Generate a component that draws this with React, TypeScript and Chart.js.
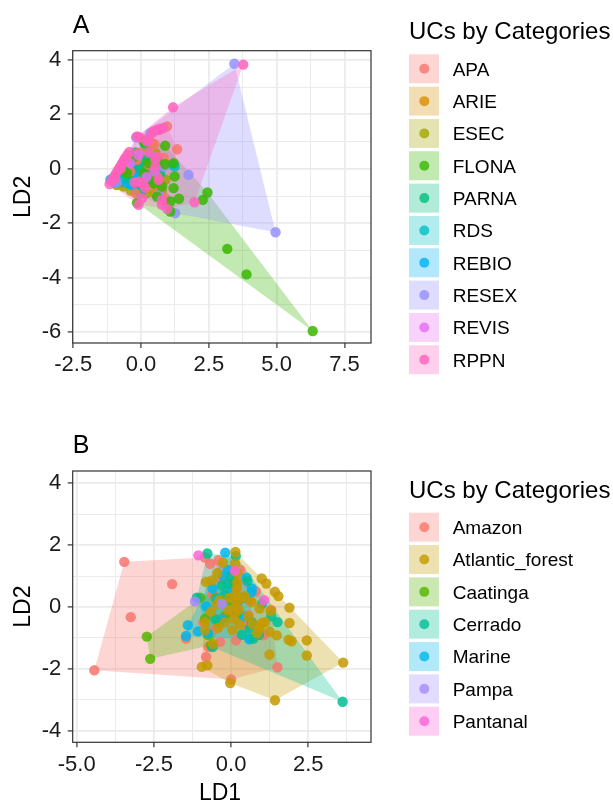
import React, { useEffect, useRef } from "react";
import { Chart, registerables } from "chart.js";
Chart.register(...registerables);

type P = [number, number];
const FONT = "'Liberation Sans', Arial, Helvetica, sans-serif";

// ---------------- Panel A data (LD1, LD2) ----------------
const catsA = ["APA", "ARIE", "ESEC", "FLONA", "PARNA", "RDS", "REBIO", "RESEX", "REVIS", "RPPN"];
const colorsA = ["#F8766D", "#D89000", "#A3A500", "#39B600", "#00BF7D", "#00BFC4", "#00B0F6", "#9590FF", "#E76BF3", "#FF62BC"];

const A_APA: P[] = [[1.33, 0.72], [0.96, 1.56], [-0.09, 0.58], [0.89, -1.08], [-0.15, 0.33], [0.3, 0.1], [0.6, -0.3], [-0.4, -0.1], [0.1, -0.6], [0.5, 0.9], [-0.6, 0.2], [0.2, 1.1], [0.7, -0.8], [-0.2, -0.9], [0.84, 0.4]];
const A_ARIE: P[] = [[0.3, -0.5], [-0.3, -0.2], [0.7, 0.1], [-0.7, -0.55], [0.1, 0.3], [0.5, -0.9]];
const A_ESEC: P[] = [[-0.82, -0.53], [-0.64, -0.65], [0.4, 0.94], [0.53, 0.58], [0.77, -0.83], [-0.21, -0.83], [-0.9, -0.6], [-0.38, -0.8], [0.22, 0.82], [0.59, -0.6], [0.0, -0.3], [-0.5, -0.3], [0.3, -0.1], [0.9, -0.4], [-0.1, 0.2], [0.2, -0.9]];
const A_FLONA: P[] = [[6.33, -5.96], [3.89, -3.88], [3.18, -2.94], [2.45, -0.87], [2.28, -1.14], [1.4, -1.1], [1.2, -0.71], [1.24, -0.28], [1.2, 0.21], [0.89, 0.85], [0.89, 0.17], [1.08, -1.2], [1.08, -1.57], [0.28, 0.21], [0.46, -0.53], [0.77, -0.65], [0.1, -0.16], [-0.52, -0.16], [-0.64, -0.04], [0.59, -1.02], [0.1, 1.0], [-0.15, -1.25], [0.4, -0.2], [0.6, 0.3], [-0.3, 0.4], [0.0, -0.5]];
const A_PARNA: P[] = [[0.22, -0.04], [-0.46, -0.34], [0.1, 0.33], [-0.03, -0.83], [0.13, 0.94], [-0.7, -0.1], [0.5, 0.1], [-0.3, 0.0], [0.3, -0.4], [-0.9, -0.45], [0.7, -0.2], [-0.2, 0.6], [0.0, 0.1]];
const A_RDS: P[] = [[1.24, 0.08], [1.2, 0.15], [0.4, 0.4], [-0.5, -0.2], [0.1, -0.4], [-0.8, -0.3]];
const A_REBIO: P[] = [[-0.27, -0.16], [-0.46, -0.53], [-0.09, -0.75], [-0.21, 0.04], [-1.13, -0.4], [-0.9, -0.26], [-0.66, -0.47], [-0.51, -0.15], [-0.03, -0.89], [-0.21, -0.55], [-1.0, -0.5], [-0.35, -0.6], [-0.6, -0.3], [-0.1, -0.3]];
const A_RESEX: P[] = [[3.44, 3.86], [4.96, -2.33], [1.75, -0.22], [1.26, -1.63], [0.65, -0.96], [0.83, 0.08], [-0.18, 1.15], [0.34, 1.31], [-0.9, -0.5]];
const A_REVIS: P[] = [[0.2, -0.3], [-0.4, 0.2], [0.5, -0.1], [-0.1, 0.5]];
const A_RPPN: P[] = [[-1.16, -0.56], [-1.08, -0.42], [-1.0, -0.3], [-0.93, -0.18], [-0.86, -0.06], [-0.79, 0.05], [-0.72, 0.17], [-0.65, 0.28], [-0.58, 0.4], [-0.5, 0.52], [-0.43, 0.62], [-0.95, -0.35], [-0.75, 0.0], [-0.6, 0.35], [3.77, 3.83], [1.18, 2.26], [1.97, -1.23], [-0.09, -1.32], [0.96, -1.47], [0.77, -1.32], [0.59, 1.44], [0.83, 1.5], [0.46, 1.38], [0.4, 1.31], [0.22, 1.0], [-0.15, 1.19], [-0.09, -0.47], [0.04, -0.53], [0.53, 0.35], [0.59, 0.45], [0.53, 0.08], [0.65, -0.4], [0.04, -1.08], [0.77, -1.14], [0.3, 0.6], [0.7, 1.47], [0.66, 1.42], [0.28, 1.05], [-0.05, 1.15], [-0.25, -0.5], [0.15, -0.7]];
const seriesA: P[][] = [A_APA, A_ARIE, A_ESEC, A_FLONA, A_PARNA, A_RDS, A_REBIO, A_RESEX, A_REVIS, A_RPPN];

const xMajorA = [-2.5, 0, 2.5, 5, 7.5];
const xMinorA = [-1.25, 1.25, 3.75, 6.25];
const yMajorA = [-6, -4, -2, 0, 2, 4];
const yMinorA = [-5, -3, -1, 1, 3];

// ---------------- Panel B data (LD1, LD2) ----------------
const catsB = ["Amazon", "Atlantic_forest", "Caatinga", "Cerrado", "Marine", "Pampa", "Pantanal"];
const colorsB = ["#F8766D", "#C49A00", "#53B400", "#00C094", "#00B6EB", "#A58AFF", "#FB61D7"];

const B_Amazon: P[] = [[-3.46, 1.46], [-4.43, -2.05], [-3.25, -0.33], [-1.91, 0.74], [1.5, -1.95], [-0.81, -1.62], [-0.73, -1.29], [-1.46, -1.02], [-0.41, 1.51], [0.16, -1.08], [-0.36, -1.13], [-0.85, 1.6], [0.0, -2.35], [-0.6, 0.4], [-0.3, 0.9], [0.2, 0.6], [-0.2, -0.3], [0.5, -0.6], [0.9, -0.9], [1.05, -0.92], [-0.9, -0.5], [0.3, 1.2], [0.6, 0.2], [-0.5, -0.7], [1.3, -0.1], [0.8, 0.5], [-0.68, 1.4], [0.56, -0.27]];
const B_Atlantic: P[] = [[3.63, -1.8], [1.42, -3.02], [-0.03, -2.46], [-0.95, -1.94], [-0.77, -1.89], [0.14, 1.78], [2.45, -1.08], [2.45, -1.57], [1.89, -0.02], [1.86, -1.06], [1.96, -1.11], [1.42, 0.49], [1.53, 0.35], [0.99, 0.92], [1.14, 0.76], [1.24, -1.54], [1.28, -0.13], [1.48, -0.92], [0.93, -0.68], [1.25, -0.8], [1.1, -0.49], [-0.82, 0.81], [-0.62, 0.86], [-0.45, 1.1], [-0.26, 1.43], [0.13, 1.41], [-0.84, -0.49], [-0.84, -0.75], [-0.59, -1.19], [-0.42, -0.67], [-0.36, 0.22], [0.04, -0.75], [0.28, -0.57], [0.44, 0.35], [0.66, 0.16], [0.92, -0.05], [1.0, -0.52], [1.89, -0.52], [0.15, 0.0], [0.15, 0.2], [0.15, 0.4], [0.18, 0.6], [0.12, -0.2], [0.1, -0.4], [0.2, 0.8], [0.25, -0.1], [-0.05, 0.3], [0.3, 0.25], [-0.2, -0.5], [-0.45, 0.1], [0.55, -0.3], [0.7, -0.55], [-0.65, -0.15], [0.85, -0.85], [0.2, 1.1], [-0.1, -0.1]];
const B_Caatinga: P[] = [[-2.73, -0.96], [-2.62, -1.68], [-1.0, 0.3], [-0.84, -0.38], [-0.75, -0.9], [-0.65, -1.24], [-0.4, -0.5], [0.0, 0.2], [-0.2, -0.3], [0.1, 0.8], [-0.5, 0.3]];
const B_Cerrado: P[] = [[3.61, -3.07], [-0.77, 1.73], [0.53, 0.84], [1.5, -0.49], [0.72, -1.02], [-1.11, 0.3], [0.15, 1.65], [-0.6, -1.3], [0.67, -0.49], [1.3, -0.3], [0.2, -0.2], [-0.3, 0.7], [0.4, 0.3], [-0.5, -0.4], [0.9, -0.9], [0.0, 1.0], [1.0, 0.1], [-0.2, 0.4], [0.6, -0.7], [-0.1, 0.75], [0.35, -0.9]];
const B_Marine: P[] = [[-0.19, 1.76], [-1.4, -0.59], [-1.46, -0.94], [-1.07, -0.79], [0.59, -1.05], [0.66, 0.47], [-0.45, 0.25], [-0.81, 0.02], [-0.75, -0.85], [0.5, 0.95], [0.67, 0.6], [0.61, -1.02], [-0.1, 1.2], [0.2, 0.1], [-0.3, -0.4], [0.4, -0.3], [-0.6, 0.6], [0.0, 0.5], [-0.25, 1.0]];
const B_Pampa: P[] = [[-1.17, 0.18], [-0.3, 0.1]];
const B_Pantanal: P[] = [[-1.06, 1.67], [0.12, 1.17], [1.07, 0.22]];
const seriesB: P[][] = [B_Amazon, B_Atlantic, B_Caatinga, B_Cerrado, B_Marine, B_Pampa, B_Pantanal];

const xMajorB = [-5, -2.5, 0, 2.5];
const xMinorB = [-3.75, -1.25, 1.25, 3.75];
const yMajorB = [-4, -2, 0, 2, 4];
const yMinorB = [-3, -1, 1, 3];

const legendTitle = "UCs by Categories";
const yTitle = "LD2";
const xTitle = "LD1";

// ---------------- helpers ----------------
function rgba(hex: string, a: number) {
  const n = parseInt(hex.slice(1), 16);
  return `rgba(${(n >> 16) & 255},${(n >> 8) & 255},${n & 255},${a})`;
}
function near(v: any, arr: number[]) {
  return typeof v === "number" && arr.some((m) => Math.abs(m - v) < 1e-6);
}
function convexHull(pts: P[]): P[] {
  const p = pts.slice().sort((a, b) => a[0] - b[0] || a[1] - b[1]);
  if (p.length < 3) return p;
  const cross = (o: P, a: P, b: P) => (a[0] - o[0]) * (b[1] - o[1]) - (a[1] - o[1]) * (b[0] - o[0]);
  const lower: P[] = [];
  for (const q of p) {
    while (lower.length >= 2 && cross(lower[lower.length - 2], lower[lower.length - 1], q) <= 0) lower.pop();
    lower.push(q);
  }
  const upper: P[] = [];
  for (let i = p.length - 1; i >= 0; i--) {
    const q = p[i];
    while (upper.length >= 2 && cross(upper[upper.length - 2], upper[upper.length - 1], q) <= 0) upper.pop();
    upper.push(q);
  }
  upper.pop();
  lower.pop();
  return lower.concat(upper);
}

interface Spec {
  cats: string[];
  colors: string[];
  series: P[][];
  drawOrder: number[];
  xMajor: number[];
  xMinor: number[];
  yMajor: number[];
  yMinor: number[];
  xMin: number;
  xMax: number;
  yMin: number;
  yMax: number;
  padTop: number;
  xAxisH: number;
  panel: string;
  panelBaseline: number;
  legendTitleBaseline: number;
  legendBoxTop: number;
  showXTitle: boolean;
}

function axis(all: number[], majors: number[], fmt: (v: number) => string, isX: boolean, min: number, max: number, size: number) {
  return {
    type: "linear" as const,
    min,
    max,
    afterBuildTicks: (s: any) => {
      s.ticks = all.map((v) => ({ value: v }));
    },
    afterFit: (s: any) => {
      if (isX) s.height = size;
      else s.width = size;
    },
    ticks: {
      autoSkip: false,
      maxRotation: 0,
      minRotation: 0,
      padding: isX ? 4 : 6.5,
      color: "#1A1A1A",
      font: { size: 22, family: FONT },
      callback: (v: any) => (near(v, majors) ? fmt(v) : ""),
    },
    grid: {
      color: "#EBEBEB",
      lineWidth: (c: any) => (near(c.tick && c.tick.value, majors) ? 1.8 : 1.0),
      drawTicks: true,
      tickLength: 5,
      tickWidth: 1.2,
      tickColor: (c: any) => (near(c.tick && c.tick.value, majors) ? "#333333" : "rgba(0,0,0,0)"),
    },
    border: { display: false },
  };
}

function buildChart(canvas: HTMLCanvasElement, spec: Spec) {
  const allX = [...spec.xMajor, ...spec.xMinor].sort((a, b) => a - b);
  const allY = [...spec.yMajor, ...spec.yMinor].sort((a, b) => a - b);
  const datasets = spec.drawOrder.map((i) => ({
    label: spec.cats[i],
    data: spec.series[i].map(([x, y]) => ({ x, y })),
    backgroundColor: rgba(spec.colors[i], 0.85),
    borderWidth: 0,
    pointRadius: 5.2,
    pointHoverRadius: 5.2,
  }));

  const decor = {
    id: "decor",
    beforeDatasetsDraw(chart: any) {
      const { ctx, chartArea, scales } = chart;
      const xs = scales.x;
      const ys = scales.y;
      ctx.save();
      ctx.beginPath();
      ctx.rect(chartArea.left, chartArea.top, chartArea.right - chartArea.left, chartArea.bottom - chartArea.top);
      ctx.clip();
      spec.series.forEach((pts, i) => {
        const h = convexHull(pts);
        if (h.length < 3) return;
        ctx.beginPath();
        h.forEach(([a, b], j) => {
          const px = xs.getPixelForValue(a);
          const py = ys.getPixelForValue(b);
          if (j === 0) ctx.moveTo(px, py);
          else ctx.lineTo(px, py);
        });
        ctx.closePath();
        ctx.fillStyle = rgba(spec.colors[i], 0.3);
        ctx.fill();
      });
      ctx.restore();
    },
    afterDraw(chart: any) {
      const { ctx, chartArea } = chart;
      ctx.save();
      ctx.strokeStyle = "#333333";
      ctx.lineWidth = 1.2;
      ctx.strokeRect(chartArea.left, chartArea.top, chartArea.right - chartArea.left, chartArea.bottom - chartArea.top);
      ctx.fillStyle = "#000000";
      ctx.textBaseline = "alphabetic";
      ctx.textAlign = "left";
      ctx.font = `25px ${FONT}`;
      ctx.fillText(spec.panel, 72.7, spec.panelBaseline);
      ctx.save();
      ctx.font = `23px ${FONT}`;
      ctx.translate(30, (chartArea.top + chartArea.bottom) / 2);
      ctx.rotate(-Math.PI / 2);
      ctx.textAlign = "center";
      ctx.fillText(yTitle, 0, 0);
      ctx.restore();
      if (spec.showXTitle) {
        ctx.font = `23px ${FONT}`;
        ctx.textAlign = "center";
        ctx.fillText(xTitle, 220, chart.height - 0.3);
      }
      ctx.textAlign = "left";
      ctx.font = `24px ${FONT}`;
      ctx.fillStyle = "#000000";
      ctx.fillText(legendTitle, 409, spec.legendTitleBaseline);
      spec.cats.forEach((c, i) => {
        const top = spec.legendBoxTop + 32.33 * i;
        const cy = top + 14.5;
        ctx.fillStyle = "#FFFFFF";
        ctx.fillRect(409, top, 30, 29);
        ctx.fillStyle = rgba(spec.colors[i], 0.3);
        ctx.fillRect(409, top, 30, 29);
        ctx.beginPath();
        ctx.arc(424.3, cy, 5, 0, Math.PI * 2);
        ctx.fillStyle = rgba(spec.colors[i], 0.8);
        ctx.fill();
        ctx.fillStyle = "#000000";
        ctx.font = `19px ${FONT}`;
        ctx.fillText(c, 452.7, cy + 6.8);
      });
      ctx.restore();
    },
  };

  return new Chart(canvas, {
    type: "scatter",
    data: { datasets },
    options: {
      responsive: false,
      animation: false,
      devicePixelRatio: 1,
      events: [],
      layout: { padding: { top: spec.padTop, right: 242, bottom: 0, left: 0 } },
      plugins: { legend: { display: false }, tooltip: { enabled: false }, title: { display: false } },
      scales: {
        x: axis(allX, spec.xMajor, (v) => v.toFixed(1), true, spec.xMin, spec.xMax, spec.xAxisH),
        y: axis(allY, spec.yMajor, (v) => String(v), false, spec.yMin, spec.yMax, 72.7),
      },
    } as any,
    plugins: [decor as any],
  });
}

const specA: Spec = {
  cats: catsA,
  colors: colorsA,
  series: seriesA,
  drawOrder: [9, 8, 3, 7, 0, 4, 5, 6, 2, 1],
  xMajor: xMajorA,
  xMinor: xMinorA,
  yMajor: yMajorA,
  yMinor: yMinorA,
  xMin: -2.52,
  xMax: 8.48,
  yMin: -6.4,
  yMax: 4.34,
  padTop: 50.7,
  xAxisH: 57,
  panel: "A",
  panelBaseline: 33.3,
  legendTitleBaseline: 38.5,
  legendBoxTop: 54.3,
  showXTitle: false,
};

const specB: Spec = {
  cats: catsB,
  colors: colorsB,
  series: seriesB,
  drawOrder: [6, 5, 1, 3, 4, 2, 0],
  xMajor: xMajorB,
  xMinor: xMinorB,
  yMajor: yMajorB,
  yMinor: yMinorB,
  xMin: -5.13,
  xMax: 4.53,
  yMin: -4.38,
  yMax: 4.4,
  padTop: 71,
  xAxisH: 57.7,
  panel: "B",
  panelBaseline: 53.3,
  legendTitleBaseline: 97.5,
  legendBoxTop: 112.7,
  showXTitle: true,
};

export default function App() {
  const refA = useRef<HTMLCanvasElement>(null);
  const refB = useRef<HTMLCanvasElement>(null);
  useEffect(() => {
    const a = buildChart(refA.current!, specA);
    const b = buildChart(refB.current!, specB);
    return () => {
      a.destroy();
      b.destroy();
    };
  }, []);
  return (
    <div style={{ position: "absolute", left: 0, top: 0, width: 613, height: 800, background: "#fff" }}>
      <canvas ref={refA} width={613} height={400} style={{ position: "absolute", left: 0, top: 0, width: 613, height: 400 }} />
      <canvas ref={refB} width={613} height={400} style={{ position: "absolute", left: 0, top: 400, width: 613, height: 400 }} />
    </div>
  );
}
